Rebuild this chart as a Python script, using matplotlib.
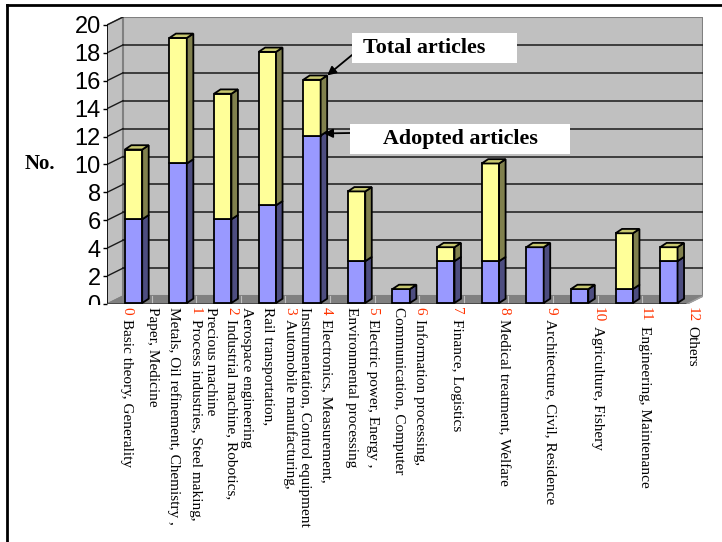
import matplotlib
matplotlib.use("Agg")
import matplotlib.pyplot as plt
from matplotlib.patches import Polygon, Rectangle
from matplotlib.lines import Line2D
from matplotlib.transforms import Bbox, TransformedBbox
import numpy as np

# ---- data -------------------------------------------------------------
category_numbers = [str(i) for i in range(13)]
category_lines = [
    ["Basic theory, Generality"],
    ["Process industries, Steel making,", "Metals, Oil refinement, Chemistry ,", "Paper, Medicine"],
    ["Industrial machine, Robotics,", "Precious machine"],
    ["Automobile manufacturing,", "Rail transportation,", "Aerospace engineering"],
    ["Electronics, Measurement,", "Instrumentation, Control equipment"],
    ["Electric power, Energy ,", "Environmental processing"],
    ["Information processing,", "Communication, Computer"],
    ["Finance, Logistics"],
    ["Medical treatment, Welfare"],
    ["Architecture, Civil, Residence"],
    ["Agriculture, Fishery"],
    ["Engineering, Maintenance"],
    ["Others"],
]
adopted = [6, 10, 6, 7, 12, 3, 1, 3, 3, 4, 1, 1, 3]
total = [11, 19, 15, 18, 16, 8, 1, 4, 10, 4, 1, 5, 4]
y_ticks = list(range(0, 21, 2))
y_max = 20

# ---- style ------------------------------------------------------------
SERIF = "Liberation Serif"
SANS = "Liberation Sans"
WALL = "#C0C0C0"
WALL_EDGE = "#808080"
FLOOR = "#808080"
BLUE_FRONT, BLUE_SIDE = "#9999FF", "#4D4D80"
YEL_FRONT, YEL_SIDE, YEL_TOP = "#FFFF99", "#80804D", "#C8C870"
NUM_RED = "#FF3300"

# pseudo-3D depth (data units)
WALL_DX, WALL_DY = 0.36, 0.57
BAR_OFF_X, BAR_OFF_Y = 0.094, 0.07
BAR_W = 0.39
BAR_DX, BAR_DY = 0.146, 0.31

# category label block layout (centre of block k = LABEL_X0 + k * LABEL_SPREAD)
LABEL_X0, LABEL_SPREAD = -0.06, 1.056
STEP_PT = 15.5

W, H = 722, 542
fig = plt.figure(figsize=(W / 100, H / 100), dpi=100)
fig.patch.set_facecolor("white")
ax = fig.add_axes([107 / W, 1 - 304 / H, (703 - 107) / W, (304 - 17) / H])
n = len(total)
x_lo, x_hi = -0.5, n - 0.5
ax.set_xlim(x_lo, x_hi + WALL_DX)
ax.set_ylim(0, y_max + WALL_DY)
ax.set_facecolor("none")
for s in ax.spines.values():
    s.set_visible(False)

# walls and floor
left_wall = Polygon([(x_lo, 0), (x_lo, y_max), (x_lo + WALL_DX, y_max + WALL_DY),
                     (x_lo + WALL_DX, WALL_DY)], closed=True, fc=WALL, ec=WALL_EDGE,
                    lw=1, zorder=1)
back_wall = Rectangle((x_lo + WALL_DX, WALL_DY), x_hi - x_lo, y_max, fc=WALL,
                      ec=WALL_EDGE, lw=1.5, zorder=1)
floor = Polygon([(x_lo, 0), (x_hi, 0), (x_hi + WALL_DX, WALL_DY), (x_lo + WALL_DX, WALL_DY)],
                closed=True, fc=FLOOR, ec=FLOOR, lw=1, zorder=1.5)
for p in (left_wall, back_wall, floor):
    ax.add_patch(p)

for v in y_ticks[1:-1]:
    ax.plot([x_lo + WALL_DX, x_hi + WALL_DX], [v + WALL_DY, v + WALL_DY],
            color="#1a1a1a", lw=1.1, zorder=2)
for v in y_ticks[1:]:
    ax.plot([x_lo, x_lo + WALL_DX], [v, v + WALL_DY], color="#1a1a1a", lw=1.0, zorder=2)
for b in np.arange(x_lo + 1, x_hi, 1.0):
    ax.plot([b, b], [0, WALL_DY], color=WALL, lw=0.8, zorder=1.6)

# front axis and floor front edge
ax.plot([x_lo, x_lo], [0, y_max], color="black", lw=1.2, zorder=2.5)
ax.plot([x_lo, x_hi], [0, 0], color="#404040", lw=1.2, zorder=2.5)
ax.plot([x_hi, x_hi + WALL_DX], [0, WALL_DY], color="#A0A0A0", lw=1, zorder=2.5)


def box3d(x0, y0, y1, front, side, top=None):
    ax.add_patch(Rectangle((x0, y0), BAR_W, y1 - y0, fc=front, ec="black",
                           lw=1.3, zorder=3))
    ax.add_patch(Polygon([(x0 + BAR_W, y0), (x0 + BAR_W + BAR_DX, y0 + BAR_DY),
                          (x0 + BAR_W + BAR_DX, y1 + BAR_DY), (x0 + BAR_W, y1)],
                         closed=True, fc=side, ec="black", lw=1.3, zorder=3))
    if top is not None:
        ax.add_patch(Polygon([(x0, y1), (x0 + BAR_W, y1), (x0 + BAR_W + BAR_DX, y1 + BAR_DY),
                              (x0 + BAR_DX, y1 + BAR_DY)],
                             closed=True, fc=top, ec="black", lw=1.3, zorder=3))


for i, (a, t) in enumerate(zip(adopted, total)):
    x0 = i - BAR_W / 2 + BAR_OFF_X
    base = BAR_OFF_Y
    box3d(x0, base, base + a, BLUE_FRONT, BLUE_SIDE)
    box3d(x0, base + a, base + t, YEL_FRONT, YEL_SIDE, YEL_TOP)

# y axis ticks on the front plane
ax.set_xticks([])
ax.set_yticks(y_ticks)
ax.set_yticklabels([str(v) for v in y_ticks], fontsize=17, family=SANS)
ax.tick_params(axis="y", length=3, width=1, pad=1.5, color="black")
clip = TransformedBbox(Bbox([[0, 1 - 305 / H], [1, 1]]), fig.transFigure)
for lab in ax.get_yticklabels():
    lab.set_clip_box(clip)
    lab.set_clip_on(True)

ax.set_ylabel("No.", rotation=0, fontsize=15, family=SERIF, fontweight="bold",
              ha="center", va="center")
ax.yaxis.set_label_coords((40 - 107) / (703 - 107), 10 / (y_max + WALL_DY))

# category labels, rotated, one text per line
xfm = ax.get_xaxis_transform()
for k, (num, lines) in enumerate(zip(category_numbers, category_lines)):
    nl = len(lines)
    cx = LABEL_X0 + k * LABEL_SPREAD
    for j, line in enumerate(lines):
        dx = ((nl - 1) / 2 - j) * STEP_PT
        kw = dict(xy=(cx, 0), xycoords=xfm, xytext=(dx, -2),
                  textcoords="offset points", rotation=-90, rotation_mode="anchor",
                  ha="left", va="center", fontsize=11, family=SERIF,
                  annotation_clip=False)
        if j == 0:
            num_txt = ax.annotate(num, color=NUM_RED, **kw)
            ax.annotate(line, xy=(0.5, 0), xycoords=num_txt, xytext=(0, -3),
                        textcoords="offset points", rotation=-90,
                        rotation_mode="anchor", ha="left", va="center",
                        fontsize=11, family=SERIF, color="black",
                        annotation_clip=False)
        else:
            ax.annotate(line, color="black", **kw)

# call-outs pointing at the bar with the most adopted articles
hi = int(np.argmax(adopted))
bx = hi - BAR_W / 2 + BAR_OFF_X + BAR_W
fig.add_artist(Rectangle((352 / W, 1 - 63 / H), 165 / W, 30 / H,
                         transform=fig.transFigure, fc="white", ec="none", zorder=5))
fig.text(363 / W, 1 - 48 / H, "Total articles", fontsize=15.8, family=SERIF,
         fontweight="bold", ha="left", va="center", zorder=6)
fig.add_artist(Rectangle((350 / W, 1 - 154 / H), 220 / W, 30 / H,
                         transform=fig.transFigure, fc="white", ec="none", zorder=5))
fig.text(460 / W, 1 - 139 / H, "Adopted articles", fontsize=15.8, family=SERIF,
         fontweight="bold", ha="center", va="center", zorder=6)

arrow = dict(arrowstyle="-|>", color="black", lw=1.3, mutation_scale=13,
             shrinkA=0, shrinkB=0)
ax.annotate("", xy=(bx + BAR_DX, BAR_OFF_Y + total[hi] + BAR_DY),
            xytext=(352, H - 55), textcoords="figure pixels", arrowprops=arrow,
            annotation_clip=False, zorder=7)
ax.annotate("", xy=(bx + BAR_DX / 2, BAR_OFF_Y + adopted[hi] + BAR_DY / 2),
            xytext=(350, H - 133), textcoords="figure pixels", arrowprops=arrow,
            annotation_clip=False, zorder=7)

# outer frame (left and top edges)
fig.add_artist(Line2D([7 / W, 7 / W], [0, 1 - 5 / H], transform=fig.transFigure,
                      color="black", lw=2))
fig.add_artist(Line2D([7 / W, 1], [1 - 5 / H, 1 - 5 / H], transform=fig.transFigure,
                      color="black", lw=2))

fig.savefig("out.png", dpi=100)
